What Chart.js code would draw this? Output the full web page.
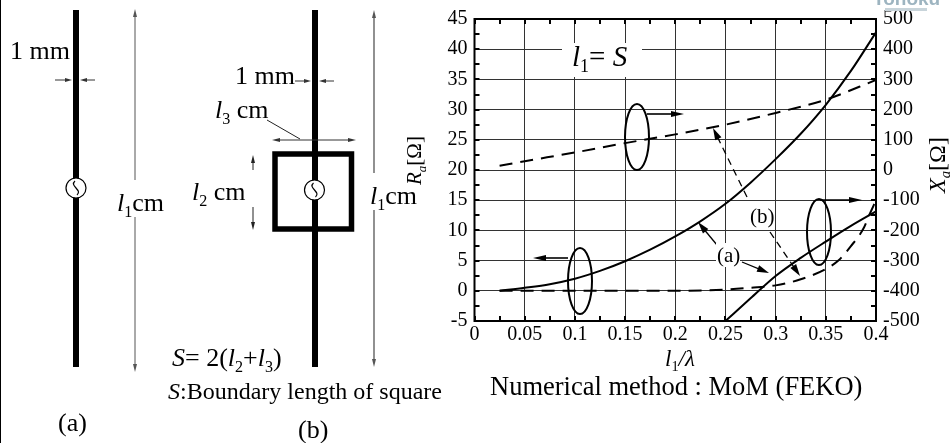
<!DOCTYPE html>
<html><head><meta charset="utf-8">
<script src="https://cdn.jsdelivr.net/npm/chart.js@4"></script>
<style>html,body{margin:0;padding:0;background:#fff}#w{position:relative;width:951px;height:443px}canvas{display:block}</style>
</head><body><div id="w"><canvas id="c" width="951" height="443"></canvas></div>
<script>
const xTicks = [0,0.05,0.1,0.15,0.2,0.25,0.3,0.35,0.4];
const leftTicks = [-5,0,5,10,15,20,25,30,35,40,45];
const rightTicks = [-500,-400,-300,-200,-100,0,100,200,300,400,500];
const raAX = [0.025,0.05,0.075,0.1,0.125,0.15,0.175,0.2,0.225,0.25,0.275,0.3,0.325,0.35,0.375,0.4];
const raA  = [0,0.5,1.1,2,3.3,4.9,6.8,9,11.5,14.4,17.9,21.8,26,30.8,36.4,42.8];
const raBX = [0.025,0.1,0.2,0.25,0.275,0.3,0.325,0.35,0.3625,0.375,0.3875,0.394,0.4];
const raB  = [0,0,0,0.2,0.5,0.9,1.9,3.6,5,7.4,10.3,12.8,15];
const xaAX = [0.25,0.275,0.3,0.325,0.35,0.375,0.4];
const xaA  = [-500,-425,-351,-291,-237,-185,-137];
const xaBX = [0.025,0.05,0.1,0.15,0.2,0.25,0.3,0.35,0.4];
const xaB  = [14,29,58,89,118,150,189,233,298];

const pts=(xs,ys)=>xs.map((x,i)=>({x,y:ys[i]}));
const SERIF='"Liberation Serif"';

function rich(ctx,x,y,parts,size){
  for(const [t,s] of parts){
    const italic=s==='i'||s==='isub';
    const sub=s==='sub'||s==='isub';
    const fs=sub?size*0.62:size;
    ctx.font=`${italic?'italic ':''}${fs}px ${SERIF}`;
    ctx.fillText(t,x,sub?y+size*0.22:y);
    x+=ctx.measureText(t).width;
  }
  return x;
}
function arrow(ctx,x1,y1,x2,y2,len,wid,color,lw,dash){
  const a=Math.atan2(y2-y1,x2-x1);
  ctx.save();ctx.strokeStyle=color;ctx.fillStyle=color;ctx.lineWidth=lw;
  if(dash)ctx.setLineDash(dash);
  ctx.beginPath();ctx.moveTo(x1,y1);ctx.lineTo(x2-Math.cos(a)*len*0.7,y2-Math.sin(a)*len*0.7);ctx.stroke();
  ctx.setLineDash([]);
  ctx.translate(x2,y2);ctx.rotate(a);
  ctx.beginPath();ctx.moveTo(0,0);ctx.lineTo(-len,-wid);ctx.lineTo(-len,wid);ctx.closePath();ctx.fill();
  ctx.restore();
}
function source(ctx,x,y){
  ctx.save();
  ctx.beginPath();ctx.arc(x,y,10,0,Math.PI*2);ctx.fillStyle='#fff';ctx.fill();
  ctx.lineWidth=1.2;ctx.strokeStyle='#000';ctx.stroke();
  ctx.beginPath();ctx.moveTo(x-1,y-7);
  ctx.bezierCurveTo(x-7,y-2,x+7,y+2,x+1,y+7);ctx.stroke();
  ctx.restore();
}
function ellipse(ctx,x,y,rx,ry){
  ctx.save();ctx.lineWidth=2;ctx.strokeStyle='#000';
  ctx.beginPath();ctx.ellipse(x,y,rx,ry,0,0,Math.PI*2);ctx.stroke();ctx.restore();
}

const underlay={id:'underlay',afterDraw(chart){
  const ctx=chart.ctx;
  const X=chart.scales.x,Y=chart.scales.y;
  const a=chart.chartArea;
  ctx.save();ctx.textBaseline='alphabetic';ctx.fillStyle='#000';ctx.textAlign='left';
  ctx.fillStyle='#000';ctx.fillRect(0,0,1,443);

  // antennas
  ctx.fillRect(73,10,6,357);
  ctx.fillRect(312,10,6,357);
  ctx.strokeStyle='#000';ctx.lineWidth=5.5;ctx.strokeRect(275,154,76.5,75);
  source(ctx,76,188);source(ctx,314.5,190);
  const G='#555';
  arrow(ctx,135,180,135,9,8,2,G,1);arrow(ctx,135,217,135,372,8,2,G,1);
  arrow(ctx,374,173,374,10,8,2,G,1.3);arrow(ctx,374,210,374,367,8,2,G,1.3);
  arrow(ctx,55,80,72,80,7,2,'#333',1);arrow(ctx,95,80,80,80,7,2,'#333',1);
  arrow(ctx,295,81,311,81,7,2,'#333',1);arrow(ctx,334,81,319,81,7,2,'#333',1);
  arrow(ctx,300,140,272,140,8,2,'#333',1);arrow(ctx,300,140,356,140,8,2,'#333',1);
  ctx.strokeStyle='#222';ctx.lineWidth=1;ctx.beginPath();ctx.moveTo(267,120);ctx.lineTo(300,139);ctx.stroke();
  arrow(ctx,253,170,253,155,8,2,'#222',1);arrow(ctx,253,207,253,230,8,2,'#222',1);

  ctx.fillStyle='#000';
  rich(ctx,10,59,[['1 mm','']],26);
  rich(ctx,235,84,[['1 mm','']],26);
  rich(ctx,117,211,[['l','i'],['1','sub'],['cm','']],26);
  rich(ctx,370,204,[['l','i'],['1','sub'],['cm','']],26);
  rich(ctx,215,118,[['l','i'],['3','sub'],[' cm','']],26);
  rich(ctx,192,200,[['l','i'],['2','sub'],[' cm','']],26);
  rich(ctx,172,366,[['S','i'],['= 2(','']
    ,['l','i'],['2','sub'],['+','']
    ,['l','i'],['3','sub'],[')','']],26);
  rich(ctx,168,399,[['S','i'],[':Boundary length of square','']],24);
  rich(ctx,58,431,[['(a)','']],26);
  rich(ctx,298,438,[['(b)','']],26);

  // text below / beside the plot
  rich(ctx,665,366,[['l','i'],['1','sub'],['/','i'],['λ','i']],23);
  rich(ctx,490,395,[['Numerical method : MoM (FEKO)','']],26.5);
  ctx.save();ctx.translate(421,185);ctx.rotate(-Math.PI/2);
  rich(ctx,0,0,[['R','i'],['a','isub'],['[Ω]','']],21);ctx.restore();
  ctx.save();ctx.translate(945,193);ctx.rotate(-Math.PI/2);
  rich(ctx,0,0,[['X','i'],['a','isub'],['[Ω]','']],24);ctx.restore();

  // minor/major inward tick marks
  ctx.strokeStyle='#000';ctx.lineWidth=2;ctx.beginPath();
  for(let v=-5;v<=45;v+=2.5){const p=Math.round(Y.getPixelForValue(v));
    ctx.moveTo(a.left,p);ctx.lineTo(a.left+5,p);ctx.moveTo(a.right,p);ctx.lineTo(a.right-5,p);}
  for(let v=0;v<=0.4001;v+=0.025){const p=Math.round(X.getPixelForValue(v));
    ctx.moveTo(p,a.top);ctx.lineTo(p,a.top+5);ctx.moveTo(p,a.bottom);ctx.lineTo(p,a.bottom-5);}
  ctx.stroke();
  ctx.lineWidth=2;ctx.strokeRect(a.left,a.top,a.right-a.left,a.bottom-a.top);

  // annotations inside the plot
  ctx.fillStyle='#fff';ctx.fillRect(562,43,80,34);
  ctx.fillStyle='#000';
  rich(ctx,572,66,[['l','i'],['1','sub'],['= ',''],['S','i']],29);
  ellipse(ctx,637,137,12,33);ellipse(ctx,580,281,12,33);ellipse(ctx,819,232,12,33);
  arrow(ctx,647,114,684,114,13,3,'#000',1.6);
  arrow(ctx,568,258,533,258,13,3,'#000',1.6);
  arrow(ctx,820,200,862,200,13,3,'#000',1.6);
  arrow(ctx,717,245,698,222,12,3.5,'#000',1.3);
  arrow(ctx,742,262,769,273,12,3.5,'#000',1.3);
  arrow(ctx,747,197,713,128,12,3.5,'#000',1.3,[7,5]);
  arrow(ctx,770,232,800,276,12,3.5,'#000',1.3,[7,5]);
  ctx.fillStyle='#fff';ctx.fillRect(716,243,24,24);ctx.fillRect(750,205,25,25);
  ctx.fillStyle='#000';
  rich(ctx,717,262,[['(a)','']],21);
  rich(ctx,750,223,[['(b)','']],21);

  // watermark
  ctx.fillStyle='#9db4c0';ctx.font='bold 19px "Liberation Sans"';ctx.fillText('Tohoku',873,5);
  ctx.fillStyle='#c8d4da';ctx.fillRect(885,8,42,3);
  ctx.restore();
}};

new Chart(document.getElementById('c'),{
  type:'line',
  data:{datasets:[
    {data:pts(raAX,raA),yAxisID:'y',borderColor:'#000',borderWidth:2,pointRadius:0,cubicInterpolationMode:'monotone'},
    {data:pts(raBX,raB),yAxisID:'y',borderColor:'#000',borderWidth:2,borderDash:[13,8],pointRadius:0,cubicInterpolationMode:'monotone'},
    {data:pts(xaAX,xaA),yAxisID:'yR',borderColor:'#000',borderWidth:2,pointRadius:0,cubicInterpolationMode:'monotone'},
    {data:pts(xaBX,xaB),yAxisID:'yR',borderColor:'#000',borderWidth:2,borderDash:[13,8],pointRadius:0,cubicInterpolationMode:'monotone'}
  ]},
  options:{
    responsive:false,animation:false,
    layout:{padding:{top:19,left:0,right:0,bottom:0}},
    plugins:{legend:{display:false},tooltip:{enabled:false},title:{display:false}},
    scales:{
      x:{type:'linear',min:0,max:0.4,
        afterBuildTicks(s){s.ticks=xTicks.map(v=>({value:v}));},
        afterFit(s){s.height=443-321;},
        grid:{color:'#333',lineWidth:1,drawTicks:false},border:{display:false},
        ticks:{color:'#000',padding:2,maxRotation:0,autoSkip:false,font:{family:'Liberation Serif',size:20},callback:v=>String(v)}},
      y:{position:'left',min:-5,max:45,
        afterBuildTicks(s){s.ticks=leftTicks.map(v=>({value:v}));},
        afterFit(s){s.width=474.5;},
        grid:{color:'#333',lineWidth:1,drawTicks:false},border:{display:false},
        ticks:{color:'#000',padding:7,font:{family:'Liberation Serif',size:20}}},
      yR:{position:'right',min:-500,max:500,
        afterBuildTicks(s){s.ticks=rightTicks.map(v=>({value:v}));},
        afterFit(s){s.width=951-876;},
        grid:{display:false,drawTicks:false},border:{display:false},
        ticks:{color:'#000',padding:7,font:{family:'Liberation Serif',size:20}}}
    }
  },
  plugins:[underlay]
});
</script></body></html>
